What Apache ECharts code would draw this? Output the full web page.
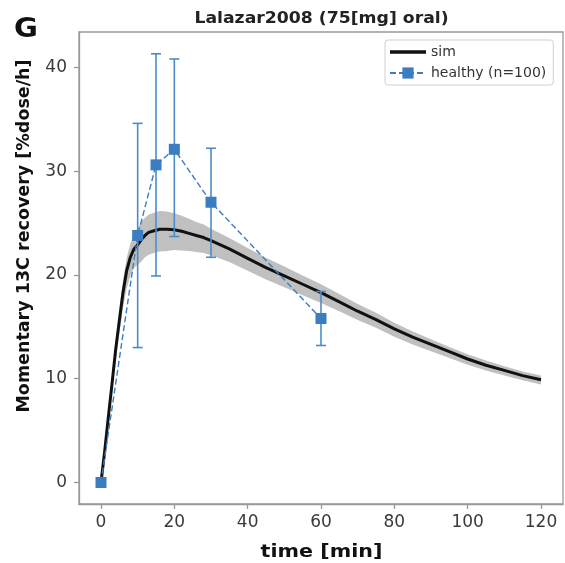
<!DOCTYPE html>
<html>
<head>
<meta charset="utf-8">
<script src="https://cdn.jsdelivr.net/npm/echarts@6/dist/echarts.min.js"></script>
<style>html,body{margin:0;padding:0;background:#fff;}#c{width:565px;height:563px;}</style>
</head>
<body>
<div id="c"></div>
<script>
// ---- data ----
const simT     = [0, 1, 2, 3, 4, 5, 6, 7, 8, 9, 10, 11, 12, 13, 14, 16, 18, 20, 22, 24, 26, 28, 30, 35, 40, 45, 50, 55, 60, 65, 70, 75, 80, 85, 90, 95, 100, 105, 110, 115, 120];
const simMean  = [0, 3.0, 6.3, 9.5, 12.8, 15.6, 18.3, 20.4, 21.7, 22.5, 22.9, 23.4, 23.8, 24.1, 24.2, 24.4, 24.4, 24.35, 24.2, 24.0, 23.8, 23.6, 23.3, 22.5, 21.6, 20.7, 19.9, 19.1, 18.3, 17.4, 16.5, 15.7, 14.8, 14.0, 13.3, 12.6, 11.9, 11.3, 10.8, 10.3, 9.9];
const simUpper = [0, 3.3, 6.8, 10.2, 13.7, 16.6, 19.5, 21.6, 23.0, 24.0, 24.5, 25.1, 25.5, 25.8, 25.95, 26.15, 26.1, 25.95, 25.7, 25.4, 25.1, 24.85, 24.45, 23.55, 22.6, 21.65, 20.8, 19.95, 19.1, 18.15, 17.2, 16.35, 15.4, 14.55, 13.8, 13.05, 12.35, 11.75, 11.2, 10.7, 10.3];
const simLower = [0, 2.65, 5.7, 8.7, 11.8, 14.35, 16.8, 18.7, 19.9, 20.7, 20.95, 21.3, 21.7, 21.95, 22.05, 22.25, 22.3, 22.4, 22.35, 22.3, 22.2, 22.1, 21.9, 21.25, 20.4, 19.55, 18.8, 18.05, 17.3, 16.5, 15.65, 14.9, 14.05, 13.3, 12.65, 12.0, 11.35, 10.8, 10.3, 9.85, 9.45];
const obsT     = [0, 10, 15, 20, 30, 60];
const obsMean  = [0, 23.8, 30.6, 32.1, 27.0, 15.8];
const obsLow   = [0, 13.0, 19.9, 23.7, 21.7, 13.2];
const obsHigh  = [0, 34.6, 41.3, 40.8, 32.2, 18.4];
const xTicks   = [0, 20, 40, 60, 80, 100, 120];
const yTicks   = [0, 10, 20, 30, 40];

const FONT = 'DejaVu Sans';
const BLUE = '#3b7dc1';
const AX = '#999999';

const chart = echarts.init(document.getElementById('c'), null, {renderer: 'canvas'});

const axisCommon = {
  axisLine: {show: true, onZero: false, lineStyle: {color: AX, width: 1.3}},
  axisTick: {show: true, length: 5, lineStyle: {color: AX, width: 1.3}},
  splitLine: {show: false},
  axisLabel: {color: '#3a3a3a', fontFamily: FONT, fontSize: 17}
};

chart.setOption({
  animation: false,
  backgroundColor: '#fff',
  grid: {left: 79, right: 2, top: 32, bottom: 59, show: true, borderColor: AX, borderWidth: 1.3, containLabel: false},
  graphic: [
    {type: 'text', left: 14, top: 17, scaleX: 1.12, style: {text: 'G', font: 'bold 26px ' + FONT, fill: '#111'}},
    {type: 'text', x: 321.5, y: 19, scaleX: 1.15, style: {text: 'Lalazar2008 (75[mg] oral)', font: 'bold 15px ' + FONT, fill: '#222', align: 'center', verticalAlign: 'middle'}},
    {type: 'text', x: 24, y: 236, rotation: Math.PI / 2, style: {text: 'Momentary 13C recovery [%dose/h]', font: 'bold 17.5px ' + FONT, fill: '#111', align: 'center', verticalAlign: 'middle'}},
    {type: 'text', x: 321.5, y: 552.5, scaleX: 1.18, style: {text: 'time [min]', font: 'bold 17.5px ' + FONT, fill: '#111', align: 'center', verticalAlign: 'middle'}}
  ],
  legend: {
    left: 385, top: 40, orient: 'vertical',
    padding: [5, 7, 5, 4], itemGap: 7, itemWidth: 36, itemHeight: 14,
    backgroundColor: '#fff', borderColor: '#d0d0d0', borderWidth: 1, borderRadius: 3,
    textStyle: {fontFamily: FONT, fontSize: 14, color: '#333'},
    data: [
      {name: 'sim', icon: 'path://M0,0H40V4H0Z', itemStyle: {color: '#111'}},
      {name: 'healthy (n=100)'}
    ]
  },
  xAxis: Object.assign({}, axisCommon, {
    type: 'value', min: -6, max: 126,
    axisTick: Object.assign({}, axisCommon.axisTick, {customValues: xTicks}),
    axisLabel: Object.assign({}, axisCommon.axisLabel, {customValues: xTicks, margin: 10})
  }),
  yAxis: Object.assign({}, axisCommon, {
    type: 'value', min: -2.07, max: 43.4,
    axisTick: Object.assign({}, axisCommon.axisTick, {customValues: yTicks}),
    axisLabel: Object.assign({}, axisCommon.axisLabel, {customValues: yTicks, margin: 12})
  }),
  series: [
    {
      type: 'custom', name: 'band', silent: true, z: 1,
      data: [[0, 0]],
      renderItem: function (params, api) {
        const pts = [];
        for (let i = 0; i < simT.length; i++) pts.push(api.coord([simT[i], simUpper[i]]));
        for (let i = simT.length - 1; i >= 0; i--) pts.push(api.coord([simT[i], simLower[i]]));
        return {type: 'polygon', shape: {points: pts, smooth: 0}, style: {fill: 'rgba(140,140,140,0.55)'}};
      }
    },
    {
      type: 'line', name: 'sim', data: simT.map((t, i) => [t, simMean[i]]),
      symbol: 'none', smooth: false, z: 3,
      lineStyle: {color: '#111', width: 3},
      itemStyle: {color: '#111'}
    },
    {
      type: 'custom', name: 'errbar', silent: true, z: 4,
      data: obsT.map((t, i) => [t, obsLow[i], obsHigh[i]]),
      encode: {x: 0, y: [1, 2]},
      renderItem: function (params, api) {
        const lo = api.coord([api.value(0), api.value(1)]);
        const hi = api.coord([api.value(0), api.value(2)]);
        const c = 5;
        const st = {stroke: '#4a8ccb', lineWidth: 1.6};
        return {type: 'group', children: [
          {type: 'line', shape: {x1: lo[0], y1: lo[1], x2: hi[0], y2: hi[1]}, style: st},
          {type: 'line', shape: {x1: lo[0] - c, y1: lo[1], x2: lo[0] + c, y2: lo[1]}, style: st},
          {type: 'line', shape: {x1: hi[0] - c, y1: hi[1], x2: hi[0] + c, y2: hi[1]}, style: st}
        ]};
      }
    },
    {
      type: 'line', name: 'healthy (n=100)', data: obsT.map((t, i) => [t, obsMean[i]]),
      symbol: 'rect', symbolSize: 11, z: 5,
      lineStyle: {color: BLUE, width: 1.4, type: [6, 3]},
      itemStyle: {color: BLUE}
    }
  ]
});
</script>
</body>
</html>
